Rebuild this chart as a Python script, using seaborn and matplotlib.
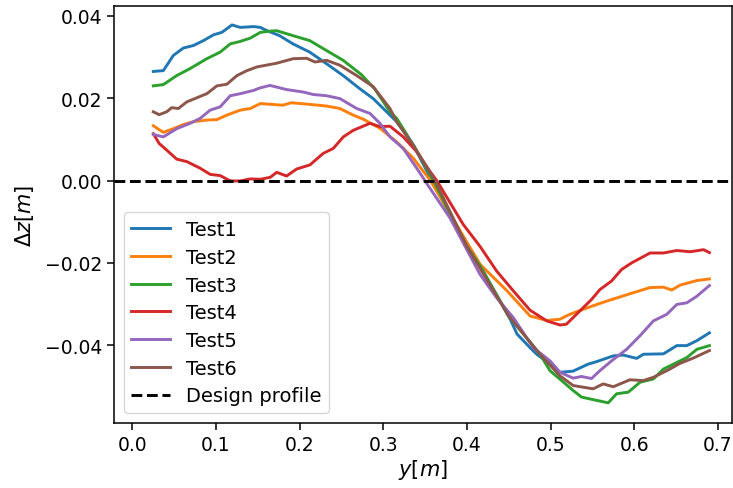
import matplotlib
matplotlib.use("Agg")
import matplotlib.pyplot as plt
import seaborn as sns
import pandas as pd

# ---- data ----
test_names = ["Test1", "Test2", "Test3", "Test4", "Test5", "Test6"]

x1 = [0.025, 0.037, 0.049, 0.061, 0.073, 0.085, 0.097, 0.107, 0.119, 0.129, 0.145, 0.153, 0.161,
      0.176, 0.192, 0.212, 0.232, 0.252, 0.272, 0.288, 0.308, 0.316, 0.336, 0.358, 0.400, 0.416,
      0.452, 0.460, 0.4755, 0.4835, 0.4994, 0.511, 0.527, 0.545, 0.555, 0.575, 0.587, 0.603, 0.611,
      0.635, 0.651, 0.663, 0.675, 0.690]
y1 = [0.0265, 0.0267, 0.0304, 0.0322, 0.0328, 0.0340, 0.0354, 0.0360, 0.0378, 0.0372, 0.0374, 0.0372, 0.0364,
      0.0352, 0.0332, 0.0312, 0.0284, 0.0255, 0.0223, 0.0199, 0.0159, 0.0143, 0.0086, 0.0000, -0.0160, -0.0208,
      -0.0338, -0.0373, -0.0406, -0.0422, -0.0446, -0.0466, -0.0463, -0.0446, -0.0440, -0.0426, -0.0424, -0.0432, -0.0422,
      -0.0421, -0.0401, -0.0401, -0.0389, -0.0370]

x2 = [0.025, 0.037, 0.049, 0.061, 0.073, 0.089, 0.101, 0.113, 0.129, 0.141, 0.153, 0.180, 0.190, 0.212,
      0.232, 0.248, 0.264, 0.276, 0.296, 0.316, 0.336, 0.356, 0.376, 0.400, 0.416, 0.448, 0.4755,
      0.4955, 0.511, 0.523, 0.547, 0.567, 0.595, 0.619, 0.635, 0.645, 0.655, 0.675, 0.690]
y2 = [0.0133, 0.0117, 0.0126, 0.0136, 0.0143, 0.0147, 0.0148, 0.0159, 0.0171, 0.0175, 0.0187, 0.0183, 0.0189, 0.0185,
      0.0181, 0.0175, 0.0159, 0.0149, 0.0127, 0.0094, 0.0054, 0.0001, -0.0067, -0.0150, -0.0204, -0.0268, -0.0329,
      -0.0340, -0.0337, -0.0325, -0.0307, -0.0293, -0.0275, -0.0260, -0.0259, -0.0266, -0.0254, -0.0243, -0.0239]

x3 = [0.025, 0.037, 0.053, 0.069, 0.089, 0.105, 0.117, 0.129, 0.141, 0.153, 0.165, 0.1725, 0.192, 0.212,
      0.232, 0.252, 0.274, 0.290, 0.308, 0.316, 0.336, 0.360, 0.400, 0.416, 0.450, 0.4874, 0.4994,
      0.511, 0.527, 0.537, 0.555, 0.569, 0.579, 0.593, 0.607, 0.623, 0.635, 0.651, 0.663, 0.675, 0.690]
y3 = [0.0230, 0.0233, 0.0255, 0.0272, 0.0296, 0.0312, 0.0332, 0.0338, 0.0346, 0.0360, 0.0363, 0.0364, 0.0352, 0.0340,
      0.0316, 0.0292, 0.0257, 0.0222, 0.0167, 0.0151, 0.0086, 0.0000, -0.0160, -0.0208, -0.0329, -0.0422, -0.0462,
      -0.0482, -0.0510, -0.0526, -0.0534, -0.0540, -0.0518, -0.0514, -0.0490, -0.0482, -0.0458, -0.0442, -0.0430, -0.0410, -0.0401]

x4 = [0.025, 0.032, 0.041, 0.053, 0.065, 0.081, 0.093, 0.105, 0.117, 0.129, 0.141, 0.153, 0.165, 0.1725,
      0.1844, 0.1964, 0.2123, 0.2282, 0.2402, 0.2522, 0.2641, 0.2841, 0.2960, 0.3080, 0.3239, 0.3400,
      0.3559, 0.3639, 0.3957, 0.4157, 0.4356, 0.4555, 0.4755, 0.4955, 0.5114, 0.519, 0.535, 0.549,
      0.559, 0.573, 0.585, 0.597, 0.619, 0.635, 0.651, 0.667, 0.683, 0.690]
y4 = [0.0114, 0.0090, 0.0074, 0.0052, 0.0046, 0.0030, 0.0015, 0.0012, -0.0001, -0.0001, 0.0004, 0.0003, 0.0008, 0.0020,
      0.0011, 0.0028, 0.0038, 0.0066, 0.0078, 0.0106, 0.0122, 0.0139, 0.0131, 0.0132, 0.0106, 0.0070,
      0.0022, 0.0000, -0.0107, -0.0160, -0.0220, -0.0268, -0.0315, -0.0341, -0.0351, -0.0349, -0.0317, -0.0289,
      -0.0265, -0.0244, -0.0216, -0.0200, -0.0176, -0.0176, -0.0170, -0.0173, -0.0168, -0.0175]

x5 = [0.025, 0.037, 0.053, 0.069, 0.081, 0.093, 0.105, 0.117, 0.129, 0.145, 0.1525, 0.1645, 0.1844, 0.2043,
      0.2163, 0.2323, 0.2482, 0.2682, 0.2841, 0.2960, 0.3080, 0.3239, 0.3400, 0.3559, 0.3798, 0.4157,
      0.4356, 0.4555, 0.4794, 0.4994, 0.5114, 0.527, 0.537, 0.549, 0.559, 0.573, 0.591, 0.607, 0.623,
      0.639, 0.651, 0.663, 0.675, 0.690]
y5 = [0.0112, 0.0106, 0.0126, 0.0139, 0.0151, 0.0171, 0.0179, 0.0206, 0.0211, 0.0219, 0.0225, 0.0231, 0.0221, 0.0215,
      0.0209, 0.0206, 0.0199, 0.0175, 0.0163, 0.0139, 0.0106, 0.0078, 0.0030, -0.0019, -0.0091, -0.0228,
      -0.0285, -0.0333, -0.0406, -0.0438, -0.0466, -0.0480, -0.0476, -0.0481, -0.0462, -0.0438, -0.0410, -0.0377, -0.0341,
      -0.0325, -0.0301, -0.0297, -0.0281, -0.0255]

x6 = [0.025, 0.032, 0.041, 0.047, 0.055, 0.065, 0.077, 0.089, 0.101, 0.113, 0.125, 0.137, 0.149, 0.1725,
      0.1923, 0.2084, 0.2183, 0.2323, 0.2482, 0.2682, 0.2880, 0.3080, 0.3160, 0.3359, 0.3618, 0.400,
      0.450, 0.4874, 0.511, 0.527, 0.551, 0.563, 0.575, 0.595, 0.611, 0.623, 0.639, 0.655, 0.671, 0.690]
y6 = [0.0167, 0.0160, 0.0167, 0.0177, 0.0175, 0.0191, 0.0201, 0.0211, 0.0230, 0.0234, 0.0255, 0.0267, 0.0276, 0.0285,
      0.0296, 0.0297, 0.0288, 0.0292, 0.0280, 0.0255, 0.0228, 0.0175, 0.0143, 0.0086, 0.0000, -0.0160,
      -0.0329, -0.0422, -0.0474, -0.0498, -0.0506, -0.0494, -0.0501, -0.0484, -0.0486, -0.0478, -0.0462, -0.0444, -0.0431, -0.0413]

design_level = 0.0
x_ticks = [0.0, 0.1, 0.2, 0.3, 0.4, 0.5, 0.6, 0.7]
y_ticks = [-0.04, -0.02, 0.00, 0.02, 0.04]

# ---- long-form table ----
xs = [x1, x2, x3, x4, x5, x6]
ys = [y1, y2, y3, y4, y5, y6]
frames = [pd.DataFrame({"y": xv, "dz": yv, "test": name})
          for name, xv, yv in zip(test_names, xs, ys)]
df = pd.concat(frames, ignore_index=True)

plt.rcParams["font.family"] = ["DejaVu Sans"]
plt.rcParams["mathtext.fontset"] = "dejavusans"

fig = plt.figure(figsize=(7.33, 4.89), dpi=100)
ax = fig.add_axes([114 / 733, 65 / 489, (732 - 114) / 733, (482 - 65) / 489])

palette = dict(zip(test_names, sns.color_palette("tab10", 6)))
sns.lineplot(data=df, x="y", y="dz", hue="test", palette=palette, sort=False,
             estimator=None, units="test", linewidth=2.1, ax=ax, legend=False)
for name in test_names:
    ax.plot([], [], color=palette[name], linewidth=2.1, label=name)
ax.axhline(design_level, color="black", linestyle="--", linewidth=2.1, label="Design profile")

ax.set_xlim(-0.022, 0.717)
ax.set_ylim(-0.0589, 0.0424)
ax.set_xticks(x_ticks)
ax.set_yticks(y_ticks)
ax.set_xticklabels([f"{v:.1f}" for v in x_ticks])
ax.set_yticklabels([f"{v:.2f}".replace("-", "\u2212") for v in y_ticks])
ax.tick_params(axis="both", labelsize=13.5, length=5, width=1.1, direction="out")
for s in ax.spines.values():
    s.set_linewidth(1.1)
ax.set_xlabel(r"$y[m]$", fontsize=15, labelpad=2)
ax.set_ylabel(r"$\Delta z[m]$", fontsize=15, labelpad=6)

ax.legend(loc="lower left", fontsize=14, frameon=True, handlelength=2.0, labelspacing=0.45)

fig.savefig("out.png", dpi=100)
